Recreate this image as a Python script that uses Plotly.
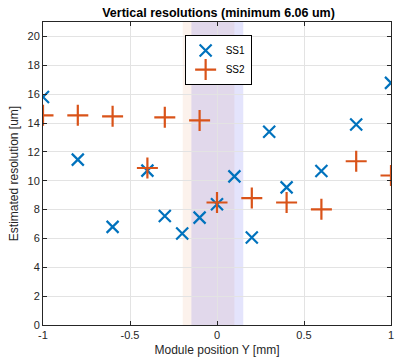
import plotly.graph_objects as go

ss1_x = [-1, -0.8, -0.6, -0.4, -0.3, -0.2, -0.1, 0, 0.1, 0.2, 0.3, 0.4, 0.6, 0.8, 1.0]
ss1_y = [15.8, 11.46, 6.8, 10.7, 7.56, 6.34, 7.44, 8.37, 10.3, 6.06, 13.4, 9.54, 10.67, 13.9, 16.78]

ss2_x = [-1, -0.8, -0.6, -0.4, -0.3, -0.1, 0, 0.2, 0.4, 0.6, 0.8, 1.0]
ss2_y = [14.53, 14.53, 14.46, 10.88, 14.39, 14.18, 8.49, 8.8, 8.49, 8.02, 11.35, 10.36]

band_ss2 = [-0.197, 0.1]
band_ss1 = [-0.147, 0.151]

x_ticks = [-1, -0.5, 0, 0.5, 1]
x_ticklabels = ["-1", "-0.5", "0", "0.5", "1"]
y_ticks = list(range(0, 21, 2))

blue = "#0072BD"
orange = "#D95319"
axcol = "#262626"
font = "Liberation Sans, Arial, sans-serif"

fig = go.Figure()
fig.add_trace(go.Scatter(
    x=ss1_x, y=ss1_y, mode="markers", name="SS1",
    marker=dict(symbol="x-thin", size=12, color=blue, line=dict(color=blue, width=2.2)),
))
fig.add_trace(go.Scatter(
    x=ss2_x, y=ss2_y, mode="markers", name="SS2",
    marker=dict(symbol="cross-thin", size=15, color=orange, line=dict(color=orange, width=2.2)),
))

fig.add_shape(type="rect", xref="x", yref="paper", x0=band_ss2[0], x1=band_ss2[1], y0=0, y1=1,
              fillcolor="rgba(230,150,100,0.12)", line=dict(width=0), layer="below")
fig.add_shape(type="rect", xref="x", yref="paper", x0=band_ss1[0], x1=band_ss1[1], y0=0, y1=1,
              fillcolor="rgba(30,30,230,0.12)", line=dict(width=0), layer="below")

fig.update_layout(
    width=401, height=362,
    margin=dict(l=43, r=7, t=22, b=36),
    paper_bgcolor="white", plot_bgcolor="white",
    font=dict(family=font, size=11, color=axcol),
    title=dict(text="<b>Vertical resolutions (minimum 6.06 um)</b>", x=0.545, xanchor="center",
               y=0.965, yanchor="middle", font=dict(size=12.5, color="black")),
    showlegend=True,
    legend=dict(x=0.407, y=0.957, xanchor="left", yanchor="top",
                bgcolor="white", bordercolor="black", borderwidth=1,
                font=dict(size=10, color="black"), itemwidth=30, tracegroupgap=0),
)
fig.update_xaxes(
    range=[-1, 1], tickvals=x_ticks, ticktext=x_ticklabels,
    showgrid=True, gridcolor="#E3E3E3", gridwidth=1, zeroline=False,
    showline=True, linecolor=axcol, linewidth=1, mirror="ticks",
    ticks="inside", ticklen=4, tickcolor=axcol,
    title=dict(text="Module position Y [mm]", font=dict(size=12, color=axcol), standoff=5),
    tickfont=dict(size=11, color=axcol),
)
fig.update_yaxes(
    range=[0, 21], tickvals=y_ticks,
    showgrid=True, gridcolor="#E3E3E3", gridwidth=1, zeroline=False,
    showline=True, linecolor=axcol, linewidth=1, mirror="ticks",
    ticks="inside", ticklen=4, tickcolor=axcol,
    title=dict(text="Estimated resolution [um]", font=dict(size=12, color=axcol), standoff=6),
    tickfont=dict(size=11, color=axcol),
)

fig.write_html("out.html")
